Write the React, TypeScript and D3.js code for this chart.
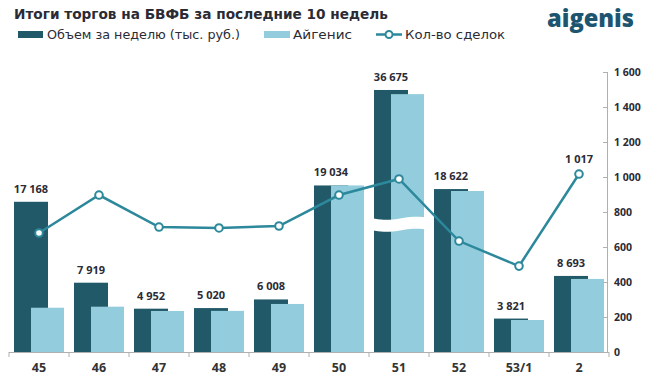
import React from "react";
import * as d3 from "d3";

const weeks = ["45", "46", "47", "48", "49", "50", "51", "52", "53/1", "2"];
const volume = [17168, 7919, 4952, 5020, 6008, 19034, 36675, 18622, 3821, 8693];
const aigenis = [5060, 5180, 4690, 4700, 5490, 19034, 36200, 18400, 3660, 8350];
const deals = [680, 897, 714, 709, 720, 897, 989, 634, 491, 1017];
const dealTicks = [0, 200, 400, 600, 800, 1000, 1200, 1400, 1600];
const brokenWeek = "51";
const breakShift = 6730;
const labeledDeal = "2";

const W = 653;
const H = 382;
const FONT = "'DejaVu Sans', 'Open Sans', sans-serif";
const NUMFONT = "'Open Sans', sans-serif";
const DARK = "#215968";
const LIGHT = "#93ccdd";
const LINE = "#2c889b";
const TXT = "#2b2b35";

const fmt = (v: number) => d3.format(",")(v).replace(/,/g, " ");

export default function App() {
  const left = 9, right = 609, top = 72, bottom = 352;
  const x = d3.scaleBand<string>().domain(weeks).range([left, right]);
  const yBar = d3.scaleLinear().domain([0, 32000]).range([bottom, top]);
  const yLine = d3.scaleLinear().domain([0, 1600]).range([bottom, top]);
  const bw = x.bandwidth();
  const disp = (w: string, v: number) => (w === brokenWeek ? v - breakShift : v);

  const line = d3
    .line<number>()
    .x((_, i) => (x(weeks[i]) as number) + bw / 2)
    .y((d) => yLine(d));

  const bi = weeks.indexOf(brokenWeek);
  const bx0 = (x(brokenWeek) as number) + 3;
  const bx1 = (x(brokenWeek) as number) + bw + 2;
  const bandMid = yBar(14600);
  const wave = (off: number) => {
    const pts: [number, number][] = d3.range(0, 21).map((k) => {
      const t = k / 20;
      return [bx0 + t * (bx1 - bx0), bandMid + off + 1.6 * Math.sin(t * Math.PI * 2)];
    });
    return pts;
  };
  const topPts = wave(-6);
  const botPts = wave(6).reverse();
  const breakPath = d3.line()([...topPts, ...botPts]) + "Z";

  return (
    <svg width={W} height={H} style={{ display: "block", position: "absolute", left: 0, top: 0 }} fontFamily={FONT}>
      <rect width={W} height={H} fill="#fff" />
      <text x={14} y={19} fontSize={14} fontWeight={700} fill={TXT} textLength={374} lengthAdjust="spacingAndGlyphs">
        Итоги торгов на БВФБ за последние 10 недель
      </text>
      <text x={547} y={27} fontSize={25} fontWeight={800} fill="#1d5571" fontFamily={NUMFONT} textLength={87} lengthAdjust="spacingAndGlyphs">
        aigenis
      </text>
      {/* legend */}
      <g fontSize={12} fill={TXT}>
        <rect x={18} y={31} width={25} height={7} fill={DARK} />
        <text x={47} y={39} textLength={193} lengthAdjust="spacingAndGlyphs">Объем за неделю (тыс. руб.)</text>
        <rect x={264} y={31} width={26} height={7} fill={LIGHT} />
        <text x={293} y={39} textLength={59} lengthAdjust="spacingAndGlyphs">Айгенис</text>
        <line x1={376} x2={402} y1={34.5} y2={34.5} stroke={LINE} strokeWidth={2.5} />
        <circle cx={389} cy={34.5} r={3.5} fill="#fff" stroke={LINE} strokeWidth={2} />
        <text x={405} y={39} textLength={100} lengthAdjust="spacingAndGlyphs">Кол-во сделок</text>
      </g>

      {/* bars */}
      {weeks.map((w, i) => {
        const x0 = x(w) as number;
        const dv = disp(w, volume[i]);
        const av = disp(w, aigenis[i]);
        return (
          <g key={w}>
            <rect x={x0 + 5} y={yBar(dv)} width={34} height={bottom - yBar(dv)} fill={DARK} />
            <rect x={x0 + 22} y={yBar(av)} width={33} height={bottom - yBar(av)} fill={LIGHT} />
            <text x={x0 + 22} y={yBar(dv) - 9} textAnchor="middle" fontSize={11} fontWeight={700} fill={TXT} fontFamily={NUMFONT}>
              {fmt(volume[i])}
            </text>
            <text x={x0 + bw / 2} y={372} textAnchor="middle" fontSize={12.5} fontWeight={700} fill="#333" fontFamily={NUMFONT}>
              {w}
            </text>
          </g>
        );
      })}
      {bi >= 0 && <path d={breakPath} fill="#fff" />}

      {/* axes */}
      <line x1={left} x2={right} y1={bottom + 0.5} y2={bottom + 0.5} stroke="#b0b0b0" />
      {d3.range(weeks.length + 1).map((k) => {
        const xx = left + k * bw;
        return <line key={k} x1={xx} x2={xx} y1={bottom} y2={bottom + 5} stroke="#b0b0b0" />;
      })}
      <line x1={607.5} x2={607.5} y1={top} y2={bottom} stroke="#b0b0b0" />
      {dealTicks.map((t) => (
        <g key={t}>
          <line x1={603} x2={607} y1={yLine(t) + 0.5} y2={yLine(t) + 0.5} stroke="#b0b0b0" />
          <text x={614} y={yLine(t) + 4} fontSize={10.5} fontWeight={700} fill={TXT} fontFamily={NUMFONT}>
            {fmt(t)}
          </text>
        </g>
      ))}

      {/* line */}
      <path d={line(deals) as string} fill="none" stroke={LINE} strokeWidth={2.5} />
      {deals.map((d, i) => (
        <circle key={i} cx={(x(weeks[i]) as number) + bw / 2} cy={yLine(d)} r={3.8} fill="#fff" stroke={LINE} strokeWidth={2} />
      ))}
      {weeks.map((w, i) =>
        w === labeledDeal ? (
          <text key={w} x={(x(w) as number) + bw / 2} y={yLine(deals[i]) - 11} textAnchor="middle" fontSize={11} fontWeight={700} fill={TXT} fontFamily={NUMFONT}>
            {fmt(deals[i])}
          </text>
        ) : null
      )}
    </svg>
  );
}
